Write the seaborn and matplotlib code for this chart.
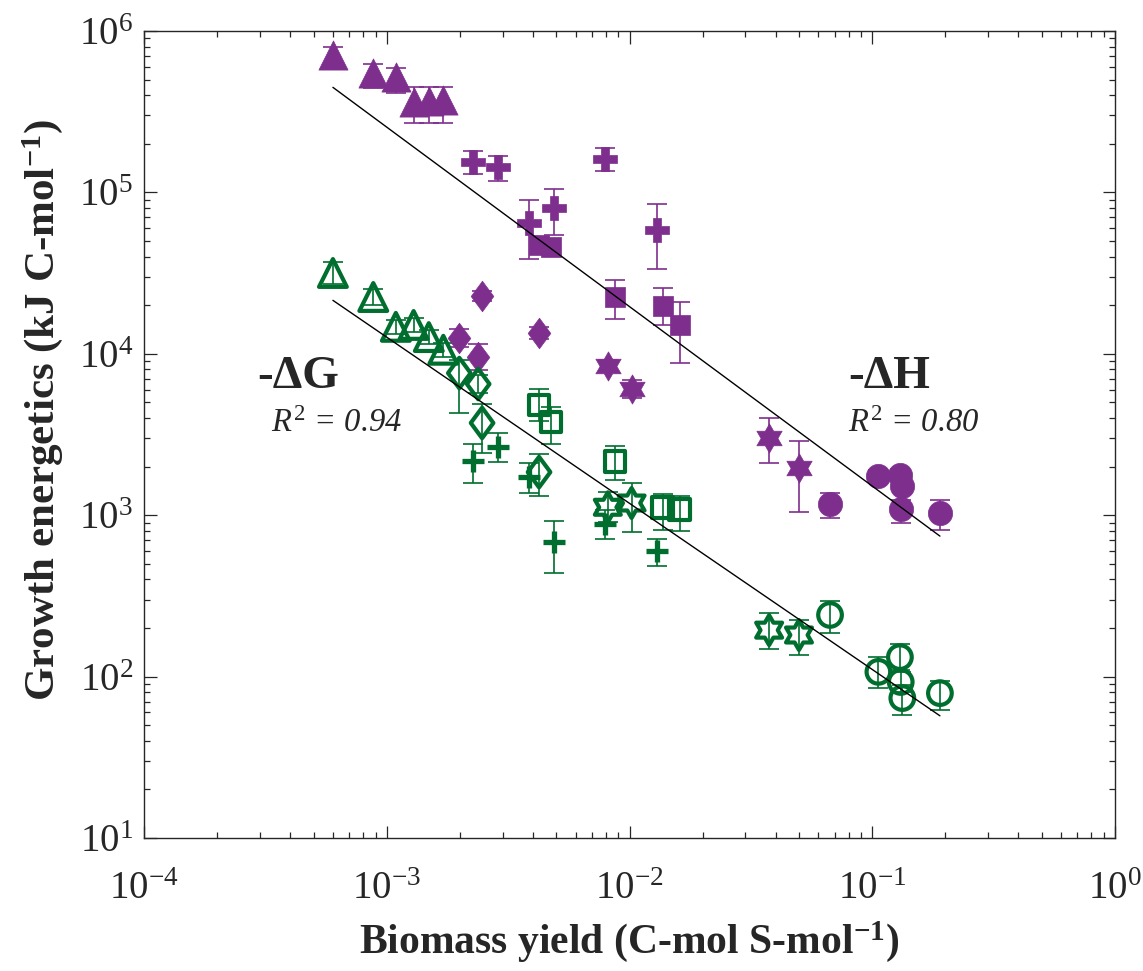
import numpy as np
import pandas as pd
import matplotlib
matplotlib.use("Agg")
import matplotlib.pyplot as plt
import seaborn as sns
from matplotlib.path import Path
from matplotlib.ticker import LogLocator, NullFormatter

# ---------------- data ----------------
# biomass yields (C-mol S-mol^-1) per marker family
tri_x = [6.0e-4, 8.8e-4, 1.09e-3, 1.29e-3, 1.49e-3, 1.71e-3]
plus_x = [2.26e-3, 2.86e-3, 3.84e-3, 4.89e-3, 7.95e-3, 1.30e-2]
sq_x = [4.24e-3, 4.75e-3, 8.71e-3, 1.37e-2, 1.61e-2]
dia_x = [1.99e-3, 2.38e-3, 2.47e-3, 4.24e-3]
hex_x = [8.14e-3, 1.02e-2, 3.76e-2, 4.99e-2]
circ_x = [0.067, 0.106, 0.130, 0.131, 0.133, 0.190]

# -dH (kJ C-mol^-1): value, lower end, upper end of the error bar
dH_tri = [7.1e5, 5.49e5, 5.19e5, 3.63e5, 3.68e5, 3.73e5]
dH_tri_lo = [6.07e5, 4.44e5, 4.13e5, 2.69e5, 2.69e5, 2.69e5]
dH_tri_hi = [7.96e5, 6.25e5, 5.90e5, 4.50e5, 4.50e5, 4.50e5]
dH_plus = [1.54e5, 1.44e5, 6.46e4, 8.0e4, 1.61e5, 5.85e4]
dH_plus_lo = [1.30e5, 1.18e5, 3.87e4, 5.45e4, 1.36e5, 3.35e4]
dH_plus_hi = [1.81e5, 1.68e5, 8.97e4, 1.05e5, 1.88e5, 8.47e4]
dH_sq = [4.72e4, 4.59e4, 2.25e4, 1.98e4, 1.51e4]
dH_sq_lo = [4.2e4, 4.1e4, 1.64e4, 1.51e4, 8.77e3]
dH_sq_hi = [5.3e4, 5.15e4, 2.87e4, 2.56e4, 2.09e4]
dH_dia = [1.25e4, 9.55e3, 2.28e4, 1.35e4]
dH_dia_lo = [1.10e4, 7.93e3, 2.12e4, 1.24e4]
dH_dia_hi = [1.42e4, 1.15e4, 2.45e4, 1.47e4]
dH_hex = [8.4e3, 6.05e3, 3.0e3, 1.96e3]
dH_hex_lo = [7.7e3, 5.3e3, 2.10e3, 1.05e3]
dH_hex_hi = [9.2e3, 6.9e3, 4.0e3, 2.88e3]
dH_circ = [1.17e3, 1.75e3, 1.77e3, 1.09e3, 1.52e3, 1.03e3]
dH_circ_lo = [961, 1.6e3, 1.62e3, 895, 1.39e3, 810]
dH_circ_hi = [1.37e3, 1.91e3, 1.93e3, 1.25e3, 1.66e3, 1.24e3]

# -dG (kJ C-mol^-1)
dG_tri = [3.17e4, 2.25e4, 1.47e4, 1.51e4, 1.27e4, 1.06e4]
dG_tri_lo = [2.71e4, 2.01e4, 1.33e4, 1.37e4, 1.15e4, 9.6e3]
dG_tri_hi = [3.71e4, 2.52e4, 1.62e4, 1.67e4, 1.40e4, 1.17e4]
dG_plus = [2.17e3, 2.65e3, 1.73e3, 682, 882, 600]
dG_plus_lo = [1.58e3, 2.14e3, 1.37e3, 438, 712, 485]
dG_plus_hi = [2.76e3, 3.23e3, 2.11e3, 921, 1.08e3, 712]
dG_sq = [4.82e3, 3.78e3, 2.14e3, 1.12e3, 1.08e3]
dG_sq_lo = [3.84e3, 2.76e3, 1.65e3, 810, 798]
dG_sq_hi = [6.05e3, 4.68e3, 2.68e3, 1.35e3, 1.31e3]
dG_dia = [7.6e3, 6.5e3, 3.73e3, 1.85e3]
dG_dia_lo = [4.3e3, 5.7e3, 2.43e3, 1.31e3]
dG_dia_hi = [9.16e3, 7.4e3, 4.89e3, 2.39e3]
dG_hex = [1.12e3, 1.19e3, 194, 181]
dG_hex_lo = [904, 787, 148, 136]
dG_hex_hi = [1.39e3, 1.58e3, 248, 224]
dG_circ = [241, 107, 132, 92.6, 73.6, 79]
dG_circ_lo = [186, 85, 110, 80, 57.8, 62]
dG_circ_hi = [294, 132, 159, 107, 88.7, 94]

labels = ["-\u0394G", "-\u0394H"]
r2_text = ["0.94", "0.80"]

# ---------------- style ----------------
sns.set_theme(style="ticks")
plt.rcParams["font.family"] = ["Liberation Serif", "DejaVu Serif"]
plt.rcParams["mathtext.fontset"] = "custom"
plt.rcParams["mathtext.rm"] = "Liberation Serif"
plt.rcParams["mathtext.it"] = "Liberation Serif:italic"
plt.rcParams["mathtext.bf"] = "Liberation Serif:bold"

PURPLE = "#7E2F8E"
GREEN = "#006E2E"


def hexagram_path():
    pts = []
    for k in range(12):
        ang = np.pi / 2 + k * np.pi / 6
        r = 1.0 if k % 2 == 0 else 1 / np.sqrt(3)
        pts.append((r * np.cos(ang), r * np.sin(ang)))
    pts.append(pts[0])
    return Path(pts, closed=True)


def diamond_path():
    pts = [(0, 1), (0.74, 0), (0, -1), (-0.74, 0), (0, 1)]
    return Path(pts, closed=True)


HEX = hexagram_path()
DIA = diamond_path()

fig = plt.figure(figsize=(11.43, 9.71), dpi=100)
ax = fig.add_axes([0.126, 0.137, 0.8495, 0.831])
ax.set_xscale("log")
ax.set_yscale("log")

groups = [
    # x, values, lo, hi, marker, size(pt), color, filled
    (tri_x, dH_tri, dH_tri_lo, dH_tri_hi, "^", 21, PURPLE, True),
    (plus_x, dH_plus, dH_plus_lo, dH_plus_hi, "P", 17, PURPLE, True),
    (sq_x, dH_sq, dH_sq_lo, dH_sq_hi, "s", 15, PURPLE, True),
    (dia_x, dH_dia, dH_dia_lo, dH_dia_hi, DIA, 22, PURPLE, True),
    (hex_x, dH_hex, dH_hex_lo, dH_hex_hi, HEX, 21, PURPLE, True),
    (circ_x, dH_circ, dH_circ_lo, dH_circ_hi, "o", 17.5, PURPLE, True),
    (tri_x, dG_tri, dG_tri_lo, dG_tri_hi, "^", 20, GREEN, False),
    (plus_x, dG_plus, dG_plus_lo, dG_plus_hi, "+", 16, GREEN, None),
    (sq_x, dG_sq, dG_sq_lo, dG_sq_hi, "s", 15, GREEN, False),
    (dia_x, dG_dia, dG_dia_lo, dG_dia_hi, DIA, 22, GREEN, False),
    (hex_x, dG_hex, dG_hex_lo, dG_hex_hi, HEX, 21.5, GREEN, False),
    (circ_x, dG_circ, dG_circ_lo, dG_circ_hi, "o", 17, GREEN, False),
]

for x, y, lo, hi, mk, size, col, filled in groups:
    x = np.asarray(x, float)
    y = np.asarray(y, float)
    lo = np.asarray(lo, float)
    hi = np.asarray(hi, float)
    ax.errorbar(x, y, yerr=[y - lo, hi - y], fmt="none", ecolor=col,
                elinewidth=1.2, capsize=7.5, capthick=1.2, zorder=2)
    df = pd.DataFrame({"x": x, "y": y})
    if filled is True:
        sns.scatterplot(data=df, x="x", y="y", marker=mk, s=size ** 2,
                        color=col, edgecolor=col, linewidth=0.5, ax=ax,
                        zorder=3, legend=False)
    elif filled is False:
        sns.scatterplot(data=df, x="x", y="y", marker=mk, s=size ** 2,
                        color=col, facecolor="none", edgecolor=col,
                        linewidth=3.0, ax=ax, zorder=3, legend=False)
    else:
        sns.scatterplot(data=df, x="x", y="y", marker=mk, s=size ** 2,
                        color=col, linewidth=3.8, ax=ax, zorder=3,
                        legend=False)

# power-law fits in log-log space
all_x = np.concatenate([tri_x, plus_x, sq_x, dia_x, hex_x, circ_x]).astype(float)
for vals in [
    np.concatenate([dH_tri, dH_plus, dH_sq, dH_dia, dH_hex, dH_circ]),
    np.concatenate([dG_tri, dG_plus, dG_sq, dG_dia, dG_hex, dG_circ]),
]:
    b, a = np.polyfit(np.log10(all_x), np.log10(vals.astype(float)), 1)
    xx = np.array([all_x.min(), all_x.max()])
    yy = 10 ** (a + b * np.log10(xx))
    sns.lineplot(x=xx, y=yy, color="black", linewidth=1.0, ax=ax,
                 estimator=None, zorder=4)

ax.set_xlim(1e-4, 1e0)
ax.set_ylim(1e1, 1e6)
ax.xaxis.set_major_locator(LogLocator(base=10, numticks=10))
ax.yaxis.set_major_locator(LogLocator(base=10, numticks=10))
ax.xaxis.set_minor_locator(LogLocator(base=10, subs=np.arange(2, 10), numticks=20))
ax.yaxis.set_minor_locator(LogLocator(base=10, subs=np.arange(2, 10), numticks=20))
ax.xaxis.set_minor_formatter(NullFormatter())
ax.yaxis.set_minor_formatter(NullFormatter())

ax.tick_params(which="both", direction="in", top=True, right=True,
               color="#262626", width=0.9)
ax.tick_params(which="major", length=9, labelsize=28, colors="#262626")
ax.tick_params(which="minor", length=4.5)
ax.tick_params(axis="x", which="major", pad=24)
ax.tick_params(axis="y", which="major", pad=8)
for sp in ax.spines.values():
    sp.set_linewidth(1.0)
    sp.set_color("#262626")

ax.set_xlabel(r"Biomass yield (C-mol S-mol$^{\mathbf{-1}}$)", fontsize=30,
              fontweight="bold")
ax.set_ylabel(r"Growth energetics (kJ C-mol$^{\mathbf{-1}}$)", fontsize=31,
              fontweight="bold")
ax.xaxis.set_label_coords(0.5, -0.1)
ax.yaxis.set_label_coords(-0.081, 0.53)

# annotations
ax.text(0.117, 0.558, labels[0], transform=ax.transAxes, fontsize=34,
        fontweight="bold", va="baseline", ha="left")
ax.text(0.131, 0.503, r"$\mathit{R^{2}}$ = " + r2_text[0], transform=ax.transAxes,
        fontsize=23.5, fontstyle="italic", va="baseline", ha="left")
ax.text(0.725, 0.558, labels[1], transform=ax.transAxes, fontsize=34,
        fontweight="bold", va="baseline", ha="left")
ax.text(0.725, 0.503, r"$\mathit{R^{2}}$ = " + r2_text[1], transform=ax.transAxes,
        fontsize=23.5, fontstyle="italic", va="baseline", ha="left")

fig.savefig("out.png", dpi=100)
